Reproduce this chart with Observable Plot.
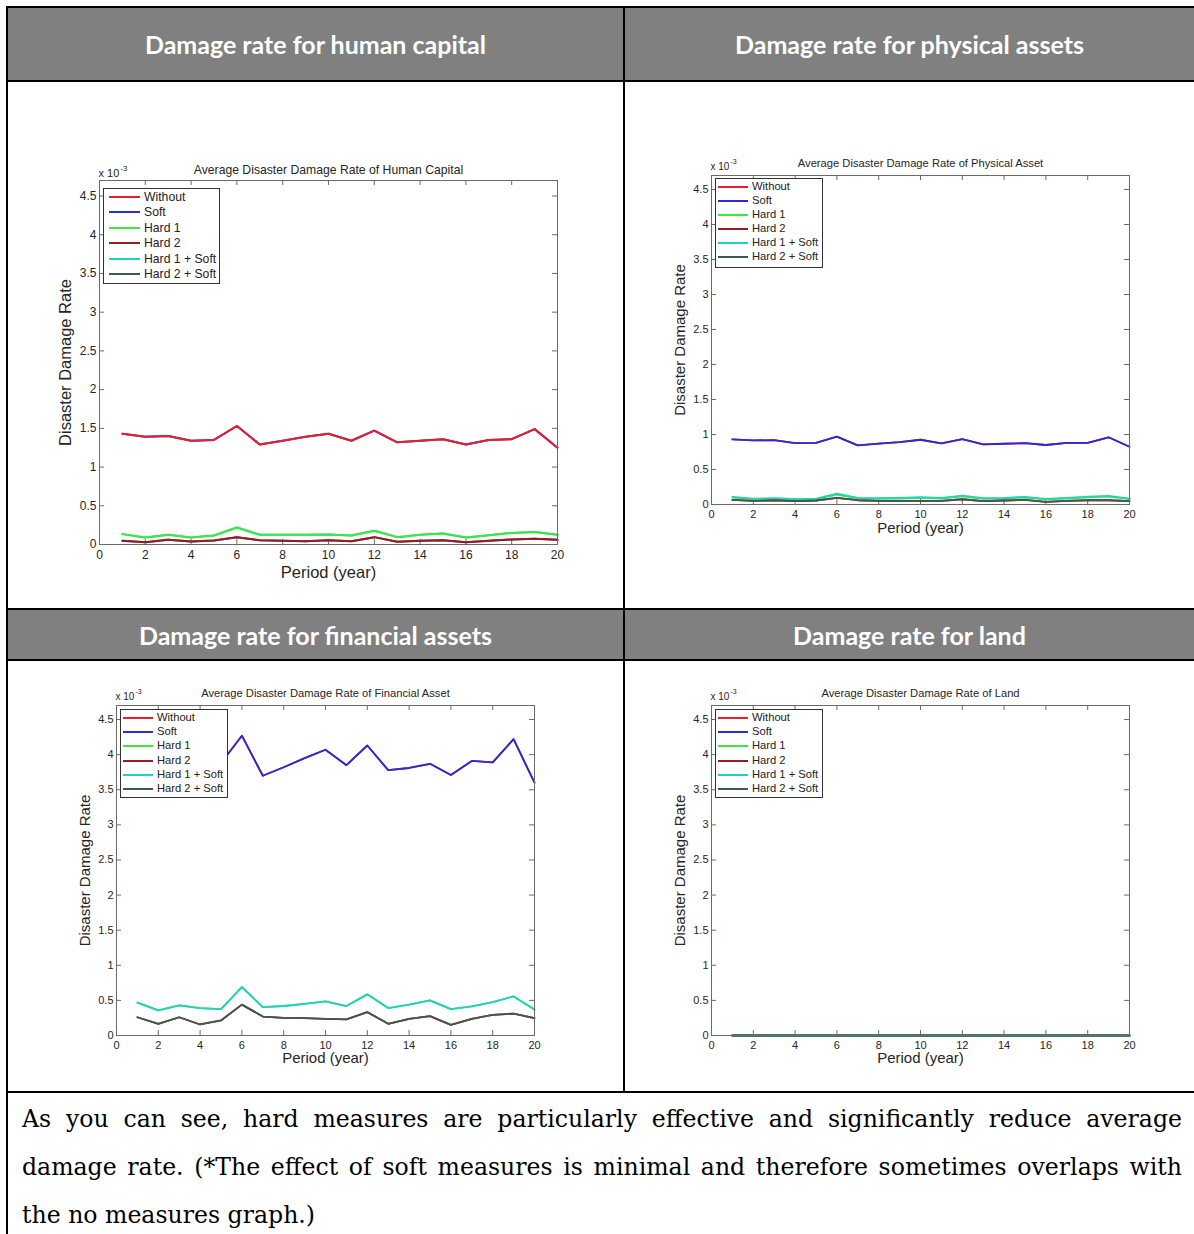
<!DOCTYPE html>
<html>
<head>
<meta charset="utf-8">
<script src="https://cdn.jsdelivr.net/npm/d3@7"></script>
<script src="https://cdn.jsdelivr.net/npm/@observablehq/plot@0.6"></script>
<style>
  html, body { margin: 0; padding: 0; background: #fff; }
  body { width: 1194px; height: 1234px; position: relative; overflow: hidden; font-family: "Liberation Sans", Arial, sans-serif; }
  .rule { position: absolute; background: #000; }
  .hdr { position: absolute; background: #808080; color: #fff; font-family: Lato, "Open Sans", sans-serif; font-weight: 700; font-size: 25px; display: flex; align-items: center; justify-content: center; }
  .chart { position: absolute; }
  .legend { position: absolute; background: #fff; border: 1px solid #333; box-sizing: border-box; }
  .legend .sw { position: absolute; height: 2px; }
  .legend .lb { position: absolute; color: #222; white-space: nowrap; transform: translateY(-50%); line-height: 1; }
  .caption { position: absolute; left: 22px; top: 1095px; width: 1160px; font-family: "DejaVu Serif", serif; font-size: 23.6px; line-height: 48px; color: #000; }
  .caption div { text-align: justify; white-space: nowrap; }
  .caption div.j { text-align-last: justify; white-space: normal; }
</style>
</head>
<body>
<script>
// ---------- data (values in units of 10^-3) ----------
const periods = [1,2,3,4,5,6,7,8,9,10,11,12,13,14,15,16,17,18,19,20];
const yearTicks = [0,2,4,6,8,10,12,14,16,18,20];
const rateTicks = [0,0.5,1,1.5,2,2.5,3,3.5,4,4.5];
const seriesNames = ["Without","Soft","Hard 1","Hard 2","Hard 1 + Soft","Hard 2 + Soft"];
const seriesColors = ["#e8202a","#2a2ad8","#3ee63e","#9a1a26","#20d2c0","#3d5a4c"];

const headers = ["Damage rate for human capital","Damage rate for physical assets","Damage rate for financial assets","Damage rate for land"];
const chartTitles = ["Average Disaster Damage Rate of Human Capital","Average Disaster Damage Rate of Physical Asset","Average Disaster Damage Rate of Financial Asset","Average Disaster Damage Rate of Land"];
const yLabel = "Disaster Damage Rate";
const xLabel = "Period (year)";
const exponentBase = "x 10";
const exponentPower = "-3";
const captionLines = [
  "As you can see, hard measures are particularly effective and significantly reduce average",
  "damage rate. (*The effect of soft measures is minimal and therefore sometimes overlaps with",
  "the no measures graph.)"
];

// Human capital
const humanWithout   = [1.43,1.39,1.40,1.34,1.35,1.53,1.29,1.34,1.39,1.43,1.34,1.47,1.32,1.34,1.36,1.29,1.35,1.36,1.49,1.25];
const humanSoft      = [1.43,1.39,1.40,1.34,1.35,1.53,1.29,1.34,1.39,1.43,1.34,1.47,1.32,1.34,1.36,1.29,1.35,1.36,1.49,1.25];
const humanHard1     = [0.134,0.09,0.125,0.09,0.117,0.22,0.125,0.125,0.125,0.13,0.117,0.177,0.095,0.125,0.143,0.09,0.12,0.15,0.16,0.125];
const humanHard2     = [0.048,0.03,0.06,0.04,0.052,0.095,0.056,0.048,0.043,0.056,0.043,0.095,0.035,0.048,0.056,0.03,0.048,0.065,0.074,0.06];
const humanHard1Soft = [0.134,0.09,0.125,0.09,0.117,0.22,0.125,0.125,0.125,0.13,0.117,0.177,0.095,0.125,0.143,0.09,0.12,0.15,0.16,0.125];
const humanHard2Soft = [0.048,0.03,0.06,0.04,0.052,0.095,0.056,0.048,0.043,0.056,0.043,0.095,0.035,0.048,0.056,0.03,0.048,0.065,0.074,0.06];

// Physical assets
const physWithout   = [0.93,0.915,0.92,0.877,0.88,0.97,0.845,0.87,0.89,0.925,0.873,0.934,0.86,0.868,0.877,0.85,0.88,0.88,0.96,0.825];
const physSoft      = [0.93,0.915,0.92,0.877,0.88,0.97,0.845,0.87,0.89,0.925,0.873,0.934,0.86,0.868,0.877,0.85,0.88,0.88,0.96,0.825];
const physHard1     = [0.10,0.078,0.082,0.072,0.078,0.14,0.086,0.082,0.086,0.095,0.086,0.115,0.082,0.086,0.10,0.072,0.086,0.103,0.112,0.078];
const physHard2     = [0.066,0.052,0.061,0.047,0.057,0.094,0.061,0.052,0.052,0.052,0.052,0.075,0.047,0.057,0.066,0.038,0.052,0.061,0.061,0.047];
const physHard1Soft = [0.11,0.085,0.09,0.08,0.085,0.155,0.095,0.09,0.095,0.104,0.095,0.127,0.09,0.095,0.11,0.08,0.095,0.113,0.123,0.085];
const physHard2Soft = [0.066,0.052,0.061,0.047,0.057,0.094,0.061,0.052,0.052,0.052,0.052,0.075,0.047,0.057,0.066,0.038,0.052,0.061,0.061,0.047];

// Financial assets
const finWithout   = [4.05,3.95,3.97,3.85,3.88,4.27,3.70,3.82,3.95,4.07,3.85,4.13,3.78,3.81,3.87,3.71,3.91,3.89,4.22,3.60];
const finSoft      = [4.05,3.95,3.97,3.85,3.88,4.27,3.70,3.82,3.95,4.07,3.85,4.13,3.78,3.81,3.87,3.71,3.91,3.89,4.22,3.60];
const finHard1     = [0.467,0.357,0.43,0.39,0.376,0.69,0.405,0.42,0.45,0.486,0.42,0.586,0.39,0.44,0.50,0.376,0.414,0.476,0.557,0.37];
const finHard2     = [0.26,0.167,0.26,0.157,0.214,0.44,0.27,0.252,0.248,0.238,0.229,0.333,0.167,0.238,0.276,0.152,0.238,0.295,0.31,0.248];
const finHard1Soft = [0.467,0.357,0.43,0.39,0.376,0.69,0.405,0.42,0.45,0.486,0.42,0.586,0.39,0.44,0.50,0.376,0.414,0.476,0.557,0.37];
const finHard2Soft = [0.26,0.167,0.26,0.157,0.214,0.44,0.27,0.252,0.248,0.238,0.229,0.333,0.167,0.238,0.276,0.152,0.238,0.295,0.31,0.248];

// Land
const landWithout   = [0,0,0,0,0,0,0,0,0,0,0,0,0,0,0,0,0,0,0,0];
const landSoft      = [0,0,0,0,0,0,0,0,0,0,0,0,0,0,0,0,0,0,0,0];
const landHard1     = [0,0,0,0,0,0,0,0,0,0,0,0,0,0,0,0,0,0,0,0];
const landHard2     = [0,0,0,0,0,0,0,0,0,0,0,0,0,0,0,0,0,0,0,0];
const landHard1Soft = [0,0,0,0,0,0,0,0,0,0,0,0,0,0,0,0,0,0,0,0];
const landHard2Soft = [0,0,0,0,0,0,0,0,0,0,0,0,0,0,0,0,0,0,0,0];

// ---------- helpers ----------
function el(tag, cls, style, text) {
  const e = document.createElement(tag);
  if (cls) e.className = cls;
  Object.assign(e.style, style || {});
  if (text != null) e.textContent = text;
  document.body.appendChild(e);
  return e;
}
function px(v) { return v + "px"; }

function buildRows(seriesArrays) {
  const rows = [];
  seriesNames.forEach((name, i) => {
    periods.forEach((p, j) => rows.push({period: p, value: seriesArrays[i][j], series: name}));
  });
  return rows;
}

// ---------- table structure ----------
el("div", "hdr", {left: "8px", top: "8px", width: "615px", height: "72px"}, headers[0]);
el("div", "hdr", {left: "625px", top: "8px", width: "569px", height: "72px"}, headers[1]);
el("div", "hdr", {left: "8px", top: "610px", width: "615px", height: "49px"}, headers[2]);
el("div", "hdr", {left: "625px", top: "610px", width: "569px", height: "49px"}, headers[3]);

[6, 80, 608, 659, 1091].forEach(y => el("div", "rule", {left: "6px", top: px(y), width: "1188px", height: "2px"}));
el("div", "rule", {left: "6px", top: "6px", width: "2px", height: "1228px"});
el("div", "rule", {left: "623px", top: "6px", width: "2px", height: "1087px"});

// ---------- panels ----------
const panels = [
  {
    data: [humanWithout, humanSoft, humanHard1, humanHard2, humanHard1Soft, humanHard2Soft],
    order: ["Soft","Without","Hard 1 + Soft","Hard 1","Hard 2 + Soft","Hard 2"],
    cell: [8, 82, 615, 526], frame: [99, 180, 557, 544],
    tickFs: 12, titleFs: 12.2, labelFs: 16.5, expFs: 11, lw: 2,
    titleDy: -10, xLabelDy: 28, yLabelDx: -34, expDy: -7, expDx: 21,
    legend: {box: [103, 188, 117, 96], y0: 197, step: 15.4, l0: 109, l1: 140, tx: 144, fs: 12.2}
  },
  {
    data: [physWithout, physSoft, physHard1, physHard2, physHard1Soft, physHard2Soft],
    order: seriesNames,
    cell: [625, 82, 569, 526], frame: [711, 175, 1129, 504],
    tickFs: 11, titleFs: 11.2, labelFs: 15, expFs: 10, lw: 1.8,
    titleDy: -12, xLabelDy: 24, yLabelDx: -31, expDy: -9, expDx: 19,
    legend: {box: [715, 178, 108, 90], y0: 187.3, step: 14, l0: 718, l1: 748, tx: 752, fs: 11.2}
  },
  {
    data: [finWithout, finSoft, finHard1, finHard2, finHard1Soft, finHard2Soft],
    order: seriesNames,
    cell: [8, 661, 615, 430], frame: [116, 705, 534, 1035],
    tickFs: 11, titleFs: 11.2, labelFs: 15, expFs: 10, lw: 1.8,
    titleDy: -12, xLabelDy: 23, yLabelDx: -31, expDy: -9, expDx: 19,
    legend: {box: [120, 709, 108, 89], y0: 718, step: 14.2, l0: 123, l1: 153, tx: 157, fs: 11.2}
  },
  {
    data: [landWithout, landSoft, landHard1, landHard2, landHard1Soft, landHard2Soft],
    order: seriesNames,
    cell: [625, 661, 569, 430], frame: [711, 705, 1129, 1035],
    tickFs: 11, titleFs: 11.2, labelFs: 15, expFs: 10, lw: 1.8,
    titleDy: -12, xLabelDy: 23, yLabelDx: -31, expDy: -9, expDx: 19,
    legend: {box: [715, 709, 108, 89], y0: 718, step: 14.2, l0: 718, l1: 748, tx: 752, fs: 11.2}
  }
];

panels.forEach((p, k) => {
  const rows = buildRows(p.data);
  const [cx, cy, cw, ch] = p.cell;
  const [fx0, fy0, fx1, fy1] = p.frame;
  const fw = fx1 - fx0, fh = fy1 - fy0;
  const axisColor = "#6a6a6a";
  const lineMarks = p.order.map(name =>
    Plot.line(rows.filter(r => r.series === name), {x: "period", y: "value", stroke: "series", strokeWidth: p.lw})
  );
  const chart = Plot.plot({
    width: cw, height: ch,
    marginLeft: fx0 - cx, marginRight: cx + cw - fx1,
    marginTop: fy0 - cy, marginBottom: cy + ch - fy1,
    x: {domain: [0, 20]},
    y: {domain: [0, 4.7]},
    color: {domain: seriesNames, range: seriesColors},
    style: {fontFamily: "'Liberation Sans', Arial, sans-serif", color: "#262626", background: "transparent", overflow: "visible"},
    marks: [
      Plot.axisX({ticks: yearTicks, tickSize: 0, tickPadding: 6, label: null, tickFormat: d => String(d), fontSize: p.tickFs}),
      Plot.axisY({ticks: rateTicks, tickSize: 0, tickPadding: 3, label: null, tickFormat: d => String(d), fontSize: p.tickFs}),
      Plot.tickX(yearTicks, {x: d => d, insetTop: fh - 5, stroke: axisColor}),
      Plot.tickX(yearTicks, {x: d => d, insetBottom: fh - 5, stroke: axisColor}),
      Plot.tickY(rateTicks, {y: d => d, insetRight: fw - 5, stroke: axisColor}),
      Plot.tickY(rateTicks, {y: d => d, insetLeft: fw - 5, stroke: axisColor}),
      ...lineMarks,
      Plot.frame({stroke: axisColor}),
      Plot.text([chartTitles[k]], {text: d => d, frameAnchor: "top", lineAnchor: "middle", dy: p.titleDy, fontSize: p.titleFs}),
      Plot.text([xLabel], {text: d => d, frameAnchor: "bottom", lineAnchor: "middle", dy: p.xLabelDy, fontSize: p.labelFs}),
      Plot.text([yLabel], {text: d => d, frameAnchor: "left", textAnchor: "middle", lineAnchor: "middle", dx: p.yLabelDx, rotate: -90, fontSize: p.labelFs}),
      Plot.text([exponentBase], {text: d => d, frameAnchor: "top-left", textAnchor: "start", lineAnchor: "middle", dx: -1, dy: p.expDy, fontSize: p.expFs}),
      Plot.text([exponentPower], {text: d => d, frameAnchor: "top-left", textAnchor: "start", lineAnchor: "middle", dx: p.expDx, dy: p.expDy - 5, fontSize: p.expFs * 0.7})
    ]
  });
  chart.classList.add("chart");
  chart.style.left = px(cx);
  chart.style.top = px(cy);
  document.body.appendChild(chart);

  // legend
  const L = p.legend;
  const box = el("div", "legend", {left: px(L.box[0]), top: px(L.box[1]), width: px(L.box[2]), height: px(L.box[3])});
  seriesNames.forEach((name, i) => {
    const yc = L.y0 + i * L.step - L.box[1] - 1;
    const sw = document.createElement("div");
    sw.className = "sw";
    Object.assign(sw.style, {left: px(L.l0 - L.box[0] - 1), top: px(yc - 1), width: px(L.l1 - L.l0), background: seriesColors[i]});
    box.appendChild(sw);
    const lb = document.createElement("div");
    lb.className = "lb";
    Object.assign(lb.style, {left: px(L.tx - L.box[0] - 1), top: px(yc), fontSize: px(L.fs)});
    lb.textContent = name;
    box.appendChild(lb);
  });
});

// ---------- caption ----------
const cap = el("div", "caption");
captionLines.forEach((t, i) => {
  const d = document.createElement("div");
  if (i < captionLines.length - 1) d.className = "j";
  d.textContent = t;
  cap.appendChild(d);
});
</script>
</body>
</html>
